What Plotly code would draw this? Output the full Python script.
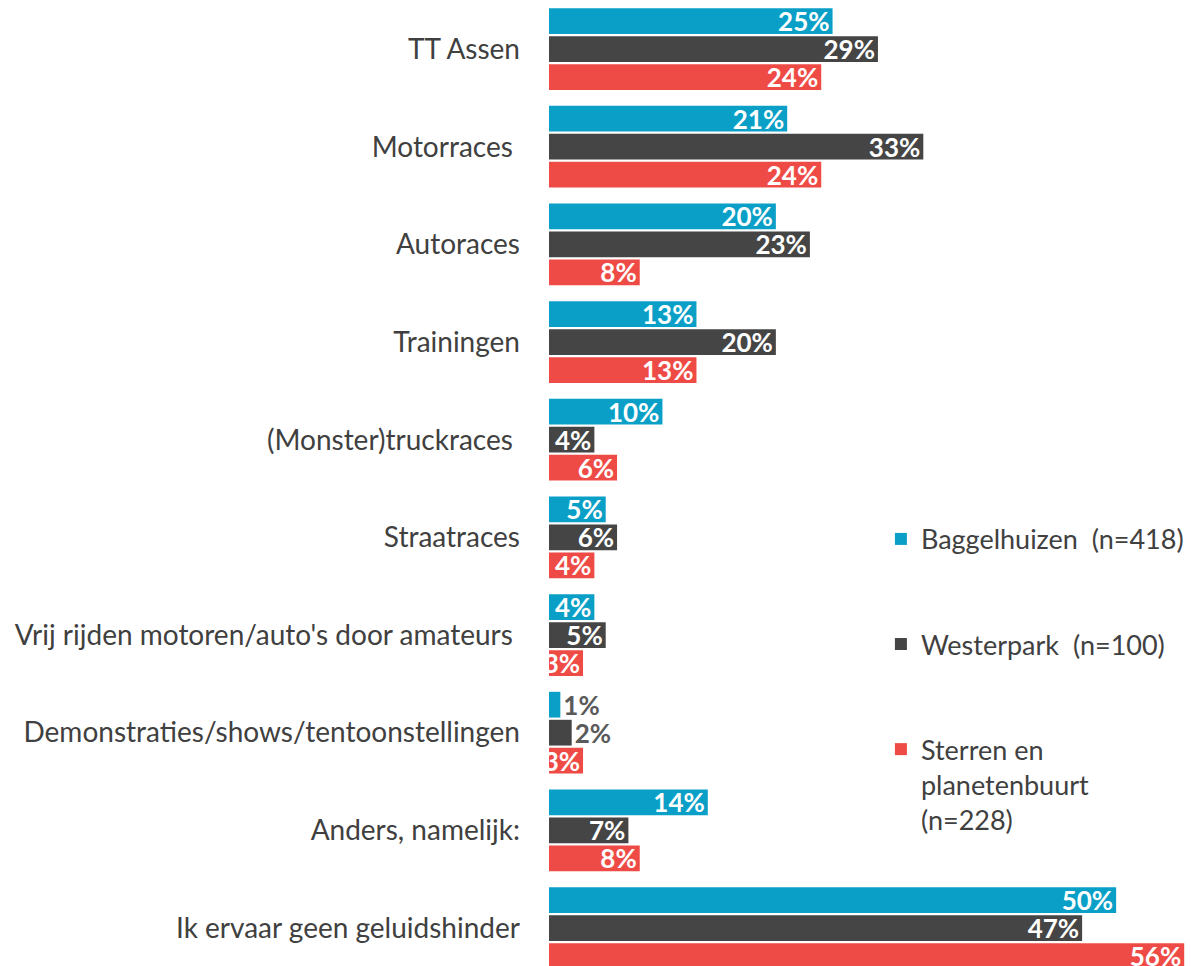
import plotly.graph_objects as go

categories = [
    "TT Assen",
    "Motorraces\u00a0",
    "Autoraces",
    "Trainingen",
    "(Monster)truckraces\u00a0",
    "Straatraces",
    "Vrij rijden motoren/auto's door amateurs\u00a0",
    "Demonstraties/shows/tentoonstellingen",
    "Anders, namelijk:",
    "Ik ervaar geen geluidshinder",
]
baggelhuizen = [25, 21, 20, 13, 10, 5, 4, 1, 14, 50]
westerpark = [29, 33, 23, 20, 4, 6, 5, 2, 7, 47]
sterren = [24, 24, 8, 13, 6, 4, 3, 3, 8, 56]

series_names = [
    "Baggelhuizen  (n=418)",
    "Westerpark  (n=100)",
    "Sterren en<br>planetenbuurt<br>(n=228)",
]
series_values = [baggelhuizen, westerpark, sterren]
colors = ["#0A9FC7", "#454545", "#EF4B46"]

fig = go.Figure()
for i, (name, vals, col) in enumerate(zip(series_names, series_values, colors)):
    pos = ["outside" if v <= 2 else "inside" for v in vals]
    fig.add_trace(go.Bar(
        y=categories, x=vals, name=name, orientation="h",
        marker=dict(color=col, line=dict(width=0)),
        text=[f"{v}%" for v in vals],
        textposition=pos,
        insidetextanchor="end",
        textangle=0,
        constraintext="none",
        insidetextfont=dict(family="Lato", size=26, color="white", weight="bold"),
        outsidetextfont=dict(family="Lato", size=26, color="#5A5A5A", weight="bold"),
        cliponaxis=False,
        legendgroup=f"g{i}",
    ))

fig.update_layout(
    width=1191, height=966,
    margin=dict(l=549, r=0, t=0, b=0, autoexpand=False),
    paper_bgcolor="white", plot_bgcolor="white",
    barmode="group", bargap=0.14, bargroupgap=0.08,
    font=dict(family="Lato", size=28, color="#404040"),
    xaxis=dict(range=[0, 56.6], showgrid=False, zeroline=False,
               showticklabels=False, showline=False, ticks=""),
    yaxis=dict(range=[9.389, -0.502], showgrid=False, zeroline=False,
               showline=False, ticks="", ticklabelstandoff=28,
               tickfont=dict(family="Lato", size=28, color="#404040")),
    legend=dict(x=0.517, xanchor="left", y=0.467, yanchor="top",
                traceorder="grouped", tracegroupgap=67, valign="top",
                font=dict(family="Lato", size=27, color="#404040"),
                bgcolor="rgba(0,0,0,0)"),
)

fig.write_html("out.html", config={"displayModeBar": False},
               post_script="document.body.style.margin='0';document.body.style.overflow='hidden';")
